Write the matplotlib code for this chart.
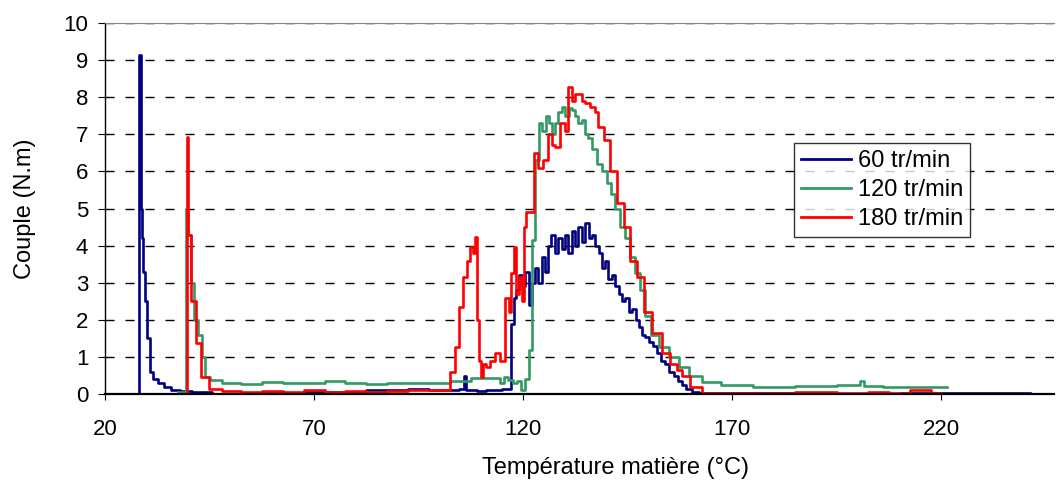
import matplotlib
matplotlib.use("Agg")
import matplotlib.pyplot as plt

plt.rcParams['font.family'] = ['Liberation Sans', 'DejaVu Sans']

# 60 tr/min
x60 = [27.9, 28.3, 28.7, 29.0, 29.4, 29.8, 30.5, 31.0, 32.0, 33.2,
       34.8, 36.7, 39.1, 42.7, 48.7, 60.0, 75.0, 90.0, 95.0, 100.0,
       102.0, 104.0, 105.5, 106.0, 106.5, 108.0, 110.0, 112.0, 114.0, 116.0,
       116.9, 117.4, 118.0, 118.6, 119.3, 120.0, 121.0, 121.8, 122.5, 123.3,
       124.0, 124.8, 125.5, 126.3, 127.2, 128.0, 128.8, 129.6, 130.4, 131.2,
       132.0, 132.8, 133.6, 134.4, 135.3, 136.0, 136.8, 137.7, 138.4, 139.2,
       140.0, 140.8, 141.5, 142.4, 143.2, 143.9, 144.8, 145.6, 146.5, 147.3,
       148.0, 148.7, 149.7, 150.5, 151.5, 152.5, 153.5, 154.4, 155.5, 156.5,
       157.6, 158.3, 159.5, 161.0, 163.1, 180.0, 200.0, 220.0, 241.3]
y60 = [0.0, 9.15, 5.0, 4.2, 3.3, 2.5, 1.5, 0.6, 0.4, 0.3,
       0.2, 0.1, 0.08, 0.05, 0.0, 0.02, 0.05, 0.1, 0.15, 0.1,
       0.12, 0.1, 0.15, 0.5, 0.1, 0.12, 0.08, 0.1, 0.12, 0.15,
       0.15, 1.9, 2.6, 2.8, 3.2, 2.9, 3.3, 2.4, 3.0, 3.4,
       3.0, 3.7, 3.3, 4.0, 4.3, 3.8, 4.2, 3.9, 4.3, 3.8,
       4.4, 4.0, 4.5, 4.1, 4.6, 4.2, 4.3, 4.0, 3.8, 3.4,
       3.6, 3.1, 3.2, 2.9, 2.7, 2.5, 2.6, 2.2, 2.3, 2.0,
       1.8, 1.6, 1.55, 1.4, 1.3, 1.1, 0.9, 0.8, 0.6, 0.5,
       0.35, 0.25, 0.15, 0.05, 0.02, 0.02, 0.01, 0.02, 0.02]

# 120 tr/min
x120 = [37.5, 39.0, 39.6, 40.2, 40.8, 41.6, 42.7, 43.5, 44.4, 45.8,
        50.0, 55.0, 60.0, 65.0, 70.0, 75.0, 80.0, 85.0, 90.0, 95.0,
        100.0, 105.0, 110.0, 112.0, 114.0, 115.0, 116.0, 116.9, 118.0, 119.0,
        120.0, 121.0, 121.7, 122.4, 123.3, 124.1, 125.0, 125.7, 126.5, 127.2,
        128.0, 128.8, 129.6, 130.5, 131.2, 132.0, 132.8, 133.6, 134.4, 135.2,
        136.0, 137.0, 138.4, 139.5, 140.5, 141.5, 142.5, 143.9, 145.0, 146.2,
        147.3, 148.5, 149.7, 151.5, 153.5, 156.0, 158.3, 161.0, 164.7, 170.0,
        180.0, 190.0, 200.0, 201.0, 202.0, 210.0, 221.4]
y120 = [0.05, 0.05, 5.0, 4.3, 3.0, 2.0, 1.6, 1.0, 0.47, 0.38,
        0.3, 0.28, 0.32, 0.3, 0.3, 0.35, 0.3, 0.28, 0.3, 0.3,
        0.3, 0.35, 0.42, 0.43, 0.42, 0.3, 0.45, 0.38, 0.3, 0.35,
        0.1, 0.4, 1.2, 4.15, 6.3, 7.3, 7.1, 7.5, 7.3, 7.0,
        7.3, 7.6, 7.75, 7.5, 7.7, 7.65, 7.5, 7.3, 7.4, 7.0,
        6.9, 6.6, 6.2, 6.0, 5.7, 5.4, 5.0, 4.5, 4.2, 3.7,
        3.25, 2.8, 2.1, 1.6, 1.27, 1.0, 0.73, 0.5, 0.33, 0.25,
        0.2, 0.22, 0.25, 0.35, 0.22, 0.2, 0.2]

# 180 tr/min
x180 = [38.7, 39.4, 39.6, 40.1, 41.1, 42.2, 43.9, 45.8, 50.0, 55.0,
        60.0, 65.0, 70.0, 75.0, 80.0, 85.0, 90.0, 95.0, 100.0, 102.1,
        103.0, 104.2, 104.9, 106.1, 106.8, 107.8, 108.0, 109.0, 109.1, 109.7,
        110.2, 110.8, 111.4, 112.5, 113.8, 115.2, 116.2, 117.0, 117.4, 118.1,
        118.6, 119.3, 120.0, 120.5, 121.0, 122.2, 122.9, 124.1, 125.3, 126.5,
        127.3, 128.1, 129.6, 130.4, 131.2, 132.0, 132.8, 133.6, 134.4, 135.3,
        136.7, 137.5, 138.4, 140.1, 141.5, 143.2, 144.9, 146.3, 148.0, 149.7,
        152.1, 154.4, 156.0, 157.6, 158.3, 161.6, 164.0, 180.0, 190.0, 200.0,
        205.0, 210.0, 215.0, 219.8]
y180 = [0.0, 0.0, 6.92, 4.3, 2.5, 1.37, 0.47, 0.15, 0.08, 0.05,
        0.08, 0.05, 0.1, 0.05, 0.08, 0.05, 0.08, 0.1, 0.1, 0.1,
        0.6, 1.27, 2.35, 3.15, 3.6, 3.96, 3.8, 4.23, 2.0, 0.9,
        0.47, 0.8, 0.73, 0.9, 1.1, 0.9, 2.6, 2.2, 3.25, 3.96,
        2.7, 3.15, 2.5, 4.5, 4.9, 4.9, 6.5, 6.1, 6.3, 7.0,
        6.7, 6.65, 7.3, 7.1, 8.27, 7.9, 8.1, 8.1, 7.9, 7.85,
        7.75, 7.6, 7.2, 6.85, 6.0, 5.15, 4.5, 3.6, 3.15, 2.2,
        1.65, 1.1, 0.8, 0.65, 0.5, 0.2, 0.03, 0.03, 0.05, 0.03,
        0.05, 0.03, 0.1, 0.03]

labels = ["60 tr/min", "120 tr/min", "180 tr/min"]
colors = ["#000080", "#339966", "#FF0000"]
xticks = [20, 70, 120, 170, 220]

fig = plt.figure(figsize=(10.56, 4.8), dpi=100)
ax = fig.add_axes([0.0994, 0.179, 0.899, 0.773])

for xs, ys, lab, c in zip([x60, x120, x180], [y60, y120, y180], labels, colors):
    ax.plot(xs, ys, color=c, lw=1.9, label=lab, drawstyle='steps-mid')

ax.set_xlim(20, 247)
ax.set_ylim(0, 10)
ax.set_xticks(xticks)
ax.set_yticks(range(0, 11))
ax.grid(axis='y', color='black', linestyle=(0, (6.5, 7.9)), linewidth=1)
ax.set_axisbelow(True)

ax.spines['right'].set_visible(False)
ax.spines['top'].set_color('#888888')
ax.spines['left'].set_linewidth(1.0)
ax.spines['bottom'].set_linewidth(1.6)
ax.tick_params(axis='y', direction='out', length=5, pad=7, labelsize=16)
ax.tick_params(axis='x', direction='out', length=4, pad=14, labelsize=16)

ax.set_ylabel("Couple (N.m)", fontsize=17, labelpad=20)
fig.text(0.583, 0.025, "Température matière (°C)", fontsize=17,
         ha='center', va='center')

leg = ax.legend(loc='upper left', bbox_to_anchor=(0.752, 0.702),
                bbox_transform=fig.transFigure, fontsize=17,
                frameon=True, fancybox=False, handlelength=2.1,
                handletextpad=0.3, labelspacing=0.3, borderpad=0.3,
                borderaxespad=0)
leg.get_frame().set_edgecolor('black')
leg.get_frame().set_linewidth(1.0)
for h in leg.get_lines():
    h.set_linewidth(2.0)

fig.savefig("out.png", dpi=100)
